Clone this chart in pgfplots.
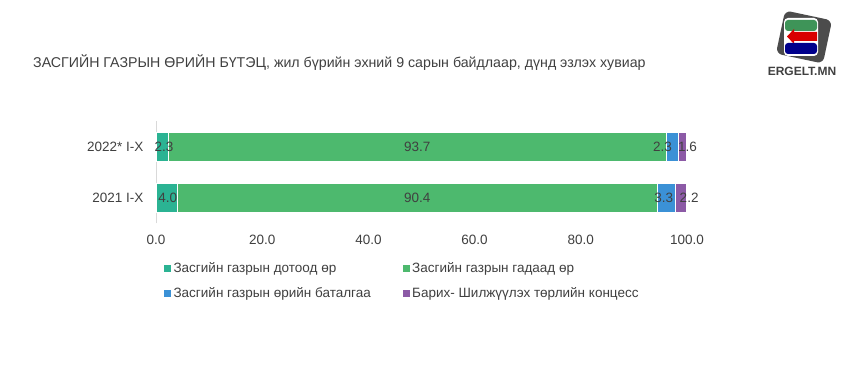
\documentclass[border=0pt]{standalone}
\usepackage{pgfplots}
\pgfplotsset{compat=1.18}
\usepackage{fontspec}
\setmainfont{Liberation Sans}
\definecolor{cTeal}{HTML}{2BB393}
\definecolor{cGreen}{HTML}{4DB96E}
\definecolor{cBlue}{HTML}{3B91D6}
\definecolor{cPurple}{HTML}{8C5AA6}
\definecolor{cText}{HTML}{404040}
\definecolor{cAxis}{HTML}{D9D9D9}
\begin{document}
\begin{tikzpicture}
\fill[white] (0,0) rectangle (847bp,372bp);
\path[use as bounding box] (0,0) rectangle (847bp,372bp);
% title
\node[anchor=west, inner sep=0, text=cText, font=\fontsize{14.2bp}{16bp}\selectfont] at (33bp,309bp)
  {ЗАСГИЙН ГАЗРЫН ӨРИЙН БҮТЭЦ, жил бүрийн эхний 9 сарын байдлаар, дүнд эзлэх хувиар};
% logo
\begin{scope}[shift={(804bp,335bp)}]
  \fill[black!70, rounded corners=6bp, rotate=-12] (-24bp,-22bp) rectangle (24bp,22bp);
  \fill[white, rounded corners=4bp] (-20bp,-19bp) rectangle (14bp,19bp);
  \fill[cGreen!80!black, rounded corners=3bp] (-19bp,6bp) rectangle (13bp,17bp);
  \fill[red!85!black] (-10bp,-4bp) -- (13bp,-4bp) -- (13bp,5bp) -- (-10bp,5bp) -- (-10bp,8bp) -- (-17bp,0.5bp) -- (-10bp,-7bp) -- cycle;
  \fill[blue!55!black, rounded corners=3bp] (-19bp,-17bp) rectangle (13bp,-6bp);
\end{scope}
\node[text=black!75, font=\bfseries\fontsize{12bp}{13bp}\selectfont, inner sep=0] at (802bp,301bp) {ERGELT.MN};
\begin{axis}[
  at={(156bp,148.5bp)}, anchor=south west,
  scale only axis, width=531bp, height=102bp,
  xbar stacked, bar width=29bp, bar shift=0pt,
  xmin=0, xmax=100, ymin=-0.5, ymax=1.5,
  xtick={0,20,...,100},
  ytick={0,1}, yticklabels={2021 I-X, 2022* I-X},
  xticklabel style={/pgf/number format/fixed, /pgf/number format/fixed zerofill, /pgf/number format/precision=1, yshift=-8bp},
  /pgf/number format/assume math mode=true,
  tick label style={text=cText, font=\fontsize{13.5bp}{15bp}\selectfont},
  axis lines*=left,
  x axis line style={draw=none},
  y axis line style={draw=cAxis, -},
  major tick length=0pt,
  yticklabel style={xshift=-9bp},
  clip=false,
  legend columns=2,
  legend cell align=left,
  legend style={draw=none, fill=none, at={(0,0)}, anchor=north west, xshift=4bp, yshift=-35bp,
    font=\fontsize{13.5bp}{15bp}\selectfont, text=cText,
    nodes={inner xsep=2bp}, row sep=9bp,
    /tikz/every even column/.append style={column sep=29bp}},
  legend image code/.code={\fill[#1] (0bp,-4bp) rectangle (8bp,4bp);},
]
\addplot[fill=cTeal, draw=white, line width=0.4pt] coordinates {(4.0,0) (2.3,1)};
\addplot[fill=cGreen, draw=white, line width=0.4pt] coordinates {(90.4,0) (93.7,1)};
\addplot[fill=cBlue, draw=white, line width=0.4pt] coordinates {(3.3,0) (2.3,1)};
\addplot[fill=cPurple, draw=white, line width=0.4pt] coordinates {(2.2,0) (1.6,1)};
\legend{Засгийн газрын дотоод өр, Засгийн газрын гадаад өр, Засгийн газрын өрийн баталгаа, Барих- Шилжүүлэх төрлийн концесс}
\end{axis}
\begin{axis}[
  at={(156bp,148.5bp)}, anchor=south west,
  scale only axis, width=531bp, height=102bp,
  xmin=0, xmax=100, ymin=-0.5, ymax=1.5,
  hide axis, clip=false,
]
\addplot[draw=none, mark=none, nodes near coords, point meta=explicit symbolic,
  every node near coord/.append style={anchor=center, text=cText, font=\fontsize{13.5bp}{15bp}\selectfont, inner sep=0}]
  table[meta=label] {
x y label
1.5 1 2.3
49.2 1 93.7
95.4 1 2.3
100.1 1 1.6
2.2 0 4.0
49.2 0 90.4
95.6 0 3.3
100.4 0 2.2
};
\end{axis}
\end{tikzpicture}
\end{document}
